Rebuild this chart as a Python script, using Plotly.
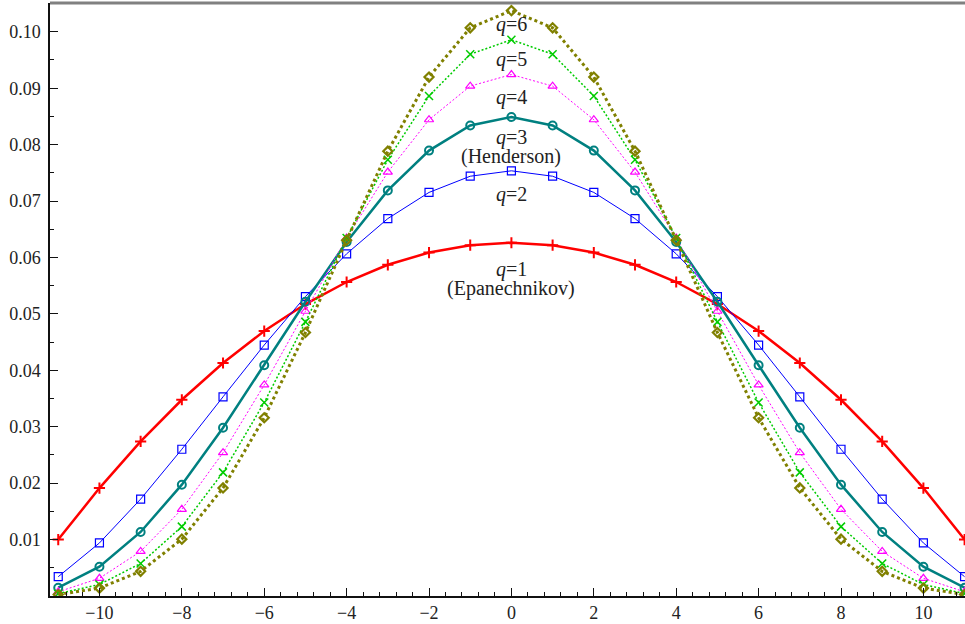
import plotly.graph_objects as go

x_vals = list(range(-11, 12))

q1_epanechnikov = [0.01000, 0.01913, 0.02739, 0.03478, 0.04130, 0.04696, 0.05174, 0.05565, 0.05870, 0.06087, 0.06217,
                   0.06261,
                   0.06217, 0.06087, 0.05870, 0.05565, 0.05174, 0.04696, 0.04130, 0.03478, 0.02739, 0.01913, 0.01000]
q2_vals = [0.00342, 0.00940, 0.01717, 0.02601, 0.03530, 0.04448, 0.05307, 0.06065, 0.06689, 0.07153, 0.07440,
           0.07536,
           0.07440, 0.07153, 0.06689, 0.06065, 0.05307, 0.04448, 0.03530, 0.02601, 0.01717, 0.00940, 0.00342]
q3_henderson = [0.00147, 0.00519, 0.01135, 0.01973, 0.02983, 0.04090, 0.05215, 0.06274, 0.07189, 0.07894, 0.08338,
                0.08489,
                0.08338, 0.07894, 0.07189, 0.06274, 0.05215, 0.04090, 0.02983, 0.01973, 0.01135, 0.00519, 0.00147]
q4_vals = [0.00074, 0.00314, 0.00791, 0.01537, 0.02540, 0.03741, 0.05047, 0.06345, 0.07513, 0.08441, 0.09037,
           0.09242,
           0.09037, 0.08441, 0.07513, 0.06345, 0.05047, 0.03741, 0.02540, 0.01537, 0.00791, 0.00314, 0.00074]
q5_vals = [0.00042, 0.00204, 0.00577, 0.01230, 0.02191, 0.03429, 0.04858, 0.06345, 0.07733, 0.08863, 0.09602,
           0.09858,
           0.09602, 0.08863, 0.07733, 0.06345, 0.04858, 0.03429, 0.02191, 0.01230, 0.00577, 0.00204, 0.00042]
q6_vals = [0.00026, 0.00140, 0.00437, 0.01008, 0.01915, 0.03159, 0.04670, 0.06307, 0.07884, 0.09198, 0.10070,
           0.10375,
           0.10070, 0.09198, 0.07884, 0.06307, 0.04670, 0.03159, 0.01915, 0.01008, 0.00437, 0.00140, 0.00026]

x_tick_vals = [-10, -8, -6, -4, -2, 0, 2, 4, 6, 8, 10]
y_tick_vals = [0.01, 0.02, 0.03, 0.04, 0.05, 0.06, 0.07, 0.08, 0.09, 0.10]
y_tick_text = ["0.01", "0.02", "0.03", "0.04", "0.05", "0.06", "0.07", "0.08", "0.09", "0.10"]

FONT = "Liberation Serif"

fig = go.Figure()

styles = [
    (q1_epanechnikov, "#ff0000", 2.5, "solid", "cross-thin-open", 8, 2),
    (q2_vals, "#0000ff", 1, "solid", "square-open", 8, 1.2),
    (q3_henderson, "#008080", 2.5, "solid", "circle-open", 8, 2),
    (q4_vals, "#ff00ff", 1, "2px,2px", "triangle-up-open", 8, 1.2),
    (q5_vals, "#00cc00", 1.5, "2px,2px", "x-thin-open", 8, 1.5),
    (q6_vals, "#808000", 3, "3px,3px", "diamond-open", 7, 2.2),
]
names = ["q=1", "q=2", "q=3", "q=4", "q=5", "q=6"]

for (vals, col, lw, dash, sym, ms, mlw), nm in zip(styles, names):
    fig.add_trace(go.Scatter(
        x=x_vals, y=vals, mode="lines+markers", name=nm,
        line=dict(color=col, width=lw, dash=dash),
        marker=dict(symbol=sym, size=ms, color=col, line=dict(color=col, width=mlw)),
        showlegend=False,
    ))

ann = [
    ("<i>q</i>=6", 0.10124),
    ("<i>q</i>=5", 0.09504),
    ("<i>q</i>=4", 0.0883),
    ("<i>q</i>=3", 0.0813),
    ("(Henderson)", 0.0779),
    ("<i>q</i>=2", 0.0711),
    ("<i>q</i>=1", 0.0579),
    ("(Epanechnikov)", 0.0545),
]
for txt, yy in ann:
    fig.add_annotation(x=0, y=yy, text=txt, showarrow=False,
                       font=dict(family=FONT, size=20, color="#222222"),
                       xanchor="center", yanchor="middle")

fig.add_shape(type="line", xref="paper", yref="paper", x0=0, x1=1, y0=1, y1=1,
              line=dict(color="#808080", width=3))

fig.update_layout(
    width=965, height=624,
    margin=dict(l=50, r=0, t=3, b=28),
    paper_bgcolor="white", plot_bgcolor="white",
    font=dict(family=FONT, size=18, color="#222222"),
)
fig.update_xaxes(
    range=[-11.2, 11.01], showgrid=False, zeroline=False,
    showline=True, linecolor="#111111", linewidth=1.5,
    tickmode="array", tickvals=x_tick_vals,
    ticks="inside", ticklen=8, tickcolor="#111111", tickwidth=1,
    minor=dict(dtick=0.4, tick0=0, ticks="inside", ticklen=4, tickcolor="#111111", tickwidth=1, showgrid=False),
    tickfont=dict(family=FONT, size=18, color="#222222"),
)
fig.update_yaxes(
    range=[0, 0.1051], showgrid=False, zeroline=False,
    showline=True, linecolor="#111111", linewidth=1.5,
    tickmode="array", tickvals=y_tick_vals, ticktext=y_tick_text,
    ticks="inside", ticklen=8, tickcolor="#111111", tickwidth=1,
    minor=dict(dtick=0.005, tick0=0, ticks="inside", ticklen=4, tickcolor="#111111", tickwidth=1, showgrid=False),
    tickfont=dict(family=FONT, size=18, color="#222222"),
    ticklabelstandoff=4,
)

fig.write_html("out.html", config={"displayModeBar": False},
               post_script="document.body.style.margin='0';document.body.style.overflow='hidden';")
